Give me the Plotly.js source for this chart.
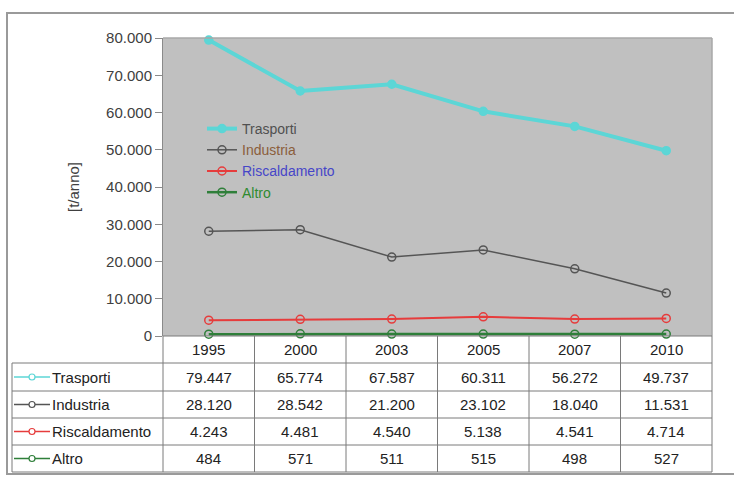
<!DOCTYPE html>
<html>
<head>
<meta charset="utf-8">
<script src="https://cdn.plot.ly/plotly-3.0.1.min.js"></script>
<style>html,body{margin:0;padding:0;background:#fff;}#chart{width:734px;height:477px;}</style>
</head>
<body>
<div id="chart"></div>
<script>
// ---- data ----
const years = ['1995', '2000', '2003', '2005', '2007', '2010'];
const seriesNames = ['Trasporti', 'Industria', 'Riscaldamento', 'Altro'];
const trasporti = [79447, 65774, 67587, 60311, 56272, 49737];
const industria = [28120, 28542, 21200, 23102, 18040, 11531];
const riscaldamento = [4243, 4481, 4540, 5138, 4541, 4714];
const altro = [484, 571, 511, 515, 498, 527];
const yTicks = [0, 10000, 20000, 30000, 40000, 50000, 60000, 70000, 80000];
const yTitle = '[t/anno]';

// ---- layout helpers ----
const W = 734, H = 477;
const px = x => x / W;
const py = y => 1 - y / H;
const fmt = n => String(n).replace(/\B(?=(\d{3})+(?!\d))/g, '.');

const plotL = 163, plotR = 712, plotT = 38, plotB = 336;
const rowLines = [336, 363, 391, 418, 445, 472];
const tableL = 12;
const colW = (plotR - plotL) / years.length;

const styles = [
  {color: '#5cd6d6', width: 4, symbol: 'circle', size: 8, legendColor: '#505050', keyWidth: 1.5},
  {color: '#555555', width: 1.5, symbol: 'circle-open', size: 8, legendColor: '#8b5e3c', keyWidth: 1.5},
  {color: '#e63c3c', width: 2, symbol: 'circle-open', size: 8, legendColor: '#4646c8', keyWidth: 1.5},
  {color: '#2f7f3a', width: 2.5, symbol: 'circle-open', size: 8, legendColor: '#2f8a2f', keyWidth: 1.5}
];
const allSeries = [trasporti, industria, riscaldamento, altro];

const traces = allSeries.map((vals, i) => ({
  type: 'scatter', mode: 'lines+markers',
  x: years, y: vals,
  name: '<span style="color:' + styles[i].legendColor + '">' + seriesNames[i] + '</span>',
  line: {color: styles[i].color, width: styles[i].width},
  marker: {symbol: styles[i].symbol, size: styles[i].size, color: styles[i].color,
           line: {color: styles[i].color, width: 1.5}},
  cliponaxis: false,
  hoverinfo: 'x+y'
}));

const shapes = [];
const annotations = [];
const lineColor = '#7a7a7a';
const tfont = {family: 'Liberation Sans, Arial, sans-serif', size: 15, color: '#222'};

// outer frame
shapes.push({type: 'rect', xref: 'paper', yref: 'paper', x0: px(7), x1: px(745), y0: py(474), y1: py(13),
  line: {color: '#9a9a9a', width: 2}});
// plot border (top/right)
shapes.push({type: 'line', xref: 'paper', yref: 'paper', x0: px(plotL), x1: px(plotR), y0: py(plotT), y1: py(plotT),
  line: {color: '#a8a8a8', width: 1.5}});
shapes.push({type: 'line', xref: 'paper', yref: 'paper', x0: px(plotR), x1: px(plotR), y0: py(plotT), y1: py(plotB),
  line: {color: '#a8a8a8', width: 1.5}});

// table horizontal lines
rowLines.forEach((y, k) => {
  shapes.push({type: 'line', xref: 'paper', yref: 'paper', x0: px(k === 0 ? plotL : tableL), x1: px(plotR),
    y0: py(y), y1: py(y), line: {color: lineColor, width: 1}});
});
// table vertical lines
shapes.push({type: 'line', xref: 'paper', yref: 'paper', x0: px(tableL), x1: px(tableL),
  y0: py(rowLines[1]), y1: py(rowLines[5]), line: {color: lineColor, width: 1}});
for (let c = 0; c <= years.length; c++) {
  const x = plotL + c * colW;
  shapes.push({type: 'line', xref: 'paper', yref: 'paper', x0: px(x), x1: px(x),
    y0: py(rowLines[0]), y1: py(rowLines[5]), line: {color: lineColor, width: 1}});
}

// header
years.forEach((yr, c) => {
  annotations.push({xref: 'paper', yref: 'paper', x: px(plotL + (c + 0.5) * colW), y: py((rowLines[0] + rowLines[1]) / 2),
    text: yr, showarrow: false, xanchor: 'center', yanchor: 'middle', font: tfont});
});
// rows
allSeries.forEach((vals, r) => {
  const yc = (rowLines[r + 1] + rowLines[r + 2]) / 2;
  shapes.push({type: 'line', xref: 'paper', yref: 'paper', x0: px(14), x1: px(50), y0: py(yc), y1: py(yc),
    line: {color: styles[r].color, width: styles[r].keyWidth}});
  shapes.push({type: 'circle', xref: 'paper', yref: 'paper', x0: px(29), x1: px(35), y0: py(yc + 3), y1: py(yc - 3),
    line: {color: styles[r].color, width: 1.2}, fillcolor: '#ffffff'});
  annotations.push({xref: 'paper', yref: 'paper', x: px(50), y: py(yc), text: seriesNames[r],
    showarrow: false, xanchor: 'left', yanchor: 'middle', font: tfont});
  vals.forEach((v, c) => {
    annotations.push({xref: 'paper', yref: 'paper', x: px(plotL + (c + 0.5) * colW), y: py(yc),
      text: fmt(v), showarrow: false, xanchor: 'center', yanchor: 'middle', font: tfont});
  });
});

const layout = {
  width: W, height: H,
  margin: {l: 0, r: 0, t: 0, b: 0},
  paper_bgcolor: '#ffffff',
  plot_bgcolor: '#c0c0c0',
  separators: ',.',
  font: {family: 'Liberation Sans, Arial, sans-serif', size: 15, color: '#404040'},
  showlegend: true,
  legend: {x: px(202), y: py(113), xanchor: 'left', yanchor: 'top', bgcolor: 'rgba(0,0,0,0)',
    font: {family: 'Liberation Sans, Arial, sans-serif', size: 14}, tracegroupgap: 0, itemwidth: 30},
  xaxis: {type: 'category', range: [-0.5, 5.5], domain: [px(plotL), px(plotR)],
    showgrid: false, zeroline: false, showticklabels: false, ticks: '', showline: false, fixedrange: true},
  yaxis: {range: [0, 80000], domain: [py(plotB), py(plotT)], tickvals: yTicks, tickformat: ',d',
    ticks: 'outside', ticklen: 7, tickcolor: '#8a8a8a', showline: true, linecolor: '#8a8a8a', linewidth: 1,
    showgrid: false, zeroline: false, automargin: false,
    tickfont: {size: 15, color: '#404040'},
    title: {text: yTitle, font: {size: 15, color: '#404040'}, standoff: 22}, fixedrange: true},
  shapes: shapes,
  annotations: annotations
};

Plotly.newPlot('chart', traces, layout, {displayModeBar: false, staticPlot: true});
</script>
</body>
</html>
